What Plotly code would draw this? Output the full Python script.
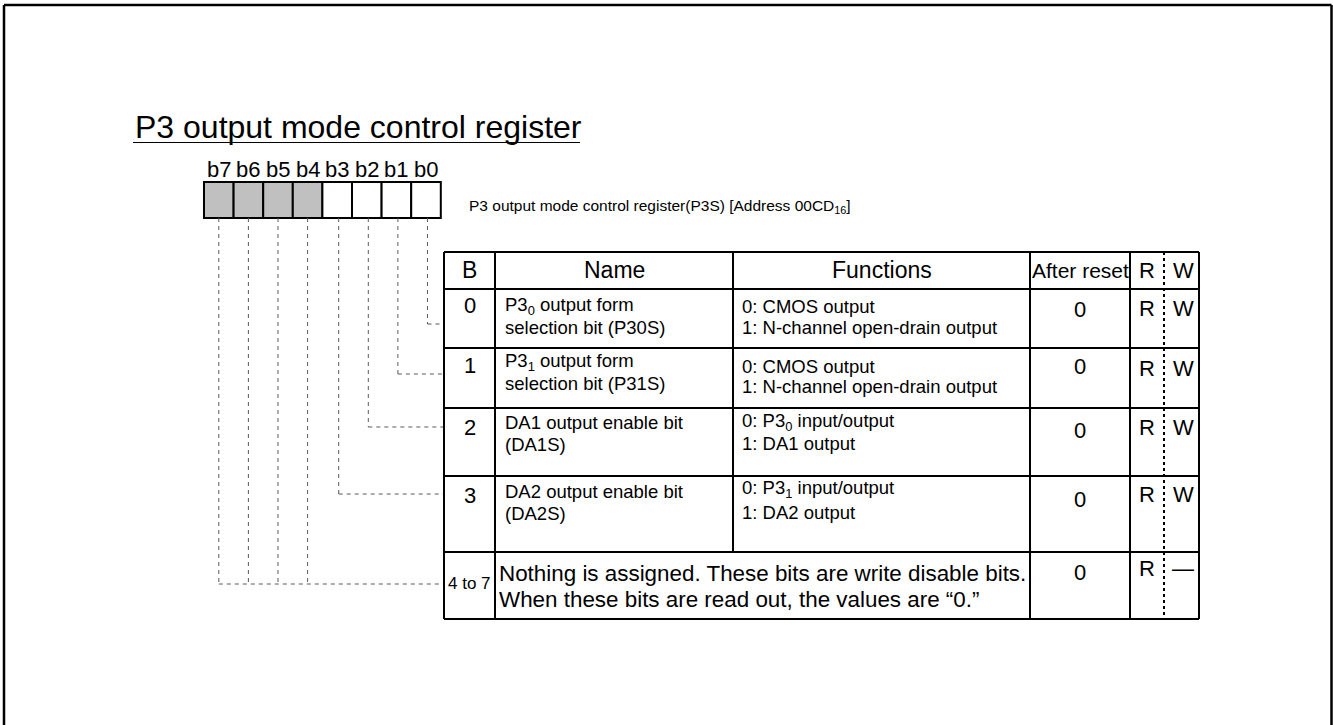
import plotly.graph_objects as go

W, H = 1333, 725
FONT = "Arial, Liberation Sans, Helvetica, sans-serif"

# ---------------- data ----------------
title_text = "P3 output mode control register"
register_desc = "P3 output mode control register(P3S) [Address 00CD<sub>16</sub>]"
bit_labels = ["b7", "b6", "b5", "b4", "b3", "b2", "b1", "b0"]
bit_unused = [True, True, True, True, False, False, False, False]
header_cols = ["B", "Name", "Functions", "After reset", "R", "W"]
row_bits = ["0", "1", "2", "3", "4 to 7"]
row_names = [
    ["P3<sub>0</sub> output form", "selection bit (P30S)"],
    ["P3<sub>1</sub> output form", "selection bit (P31S)"],
    ["DA1 output enable bit", "(DA1S)"],
    ["DA2 output enable bit", "(DA2S)"],
    None,
]
row_functions = [
    ["0: CMOS output", "1: N-channel open-drain output"],
    ["0: CMOS output", "1: N-channel open-drain output"],
    ["0: P3<sub>0</sub> input/output", "1: DA1 output"],
    ["0: P3<sub>1</sub> input/output", "1: DA2 output"],
    None,
]
row4_text = ["Nothing is assigned. These bits are write disable bits.",
             "When these bits are read out, the values are \u201c0.\u201d"]
after_reset = ["0", "0", "0", "0", "0"]
read_flag = ["R", "R", "R", "R", "R"]
write_flag = ["W", "W", "W", "W", "\u2014"]

# ---------------- layout geometry ----------------
box_left, box_w, box_top, box_bot = 204, 29.6, 182, 218
col_x = [444, 495, 733, 1030, 1130, 1199]
rw_div = 1164
row_y = [252, 289, 348, 408, 476, 552, 619]
conn_y = [324, 374, 427, 494]
conn_y_hi = 584

b_y = [305, 365, 427, 495, 583]
name_y = [(306, 327), (362, 383), (422, 444), (491, 513)]
func_y = [(306, 327), (366, 386), (422, 443), (489, 512)]
reset_y = [309, 366, 430, 499, 572]
rw_y = [308, 368, 427, 494, 568]

shapes = []
ann = []

def line(x0, y0, x1, y1, color="black", width=1, dash=None):
    d = dict(type="line", xref="x", yref="y", x0=x0, y0=y0, x1=x1, y1=y1,
             line=dict(color=color, width=width))
    if dash:
        d["line"]["dash"] = dash
    shapes.append(d)

def text(x, y, s, size, xanchor="left", yanchor="middle"):
    ann.append(dict(x=x, y=y, xref="x", yref="y", text=s, showarrow=False,
                    xanchor=xanchor, yanchor=yanchor,
                    font=dict(family=FONT, size=size, color="black")))

# outer frame (no bottom edge visible)
line(4, 5, 4, 730, width=2.5)
line(4, 5, 1331.5, 5, width=2.5)
line(1331.5, 5, 1331.5, 730, width=2.5)

# title
text(133, 127, title_text, 32)
line(133, 142.5, 580, 142.5, width=1)

# bit boxes
for i, lab in enumerate(bit_labels):
    x0 = box_left + i * box_w
    shapes.append(dict(type="rect", xref="x", yref="y", x0=x0, x1=x0 + box_w,
                       y0=box_top, y1=box_bot,
                       fillcolor="#c0c0c0" if bit_unused[i] else "white",
                       line=dict(color="black", width=2)))
    text(x0 + box_w / 2, 169, lab, 22, xanchor="center")

text(467, 206, register_desc, 15.5)

# connectors
dash_col = "#5a5a5a"
for i, lab in enumerate(bit_labels):
    bit = 7 - i
    cx = box_left + i * box_w + box_w / 2 + (1.5 if bit < 4 else 0)
    if bit < 4:
        yy = conn_y[bit]
        line(cx, box_bot, cx, yy, color=dash_col, dash="4px,4px")
        line(cx, yy, col_x[0], yy, color=dash_col, dash="4px,4px")
    else:
        line(cx, box_bot, cx, conn_y_hi, color=dash_col, dash="4px,4px")
x_b7 = box_left + box_w / 2
line(x_b7, conn_y_hi, col_x[0], conn_y_hi, color=dash_col, dash="4px,4px")

# table grid
for yy in row_y:
    line(col_x[0], yy, col_x[-1], yy, width=2)
for j, xx in enumerate(col_x):
    if j == 2:
        line(xx, row_y[0], xx, row_y[5], width=2)
    else:
        line(xx, row_y[0], xx, row_y[-1], width=2)
line(rw_div, row_y[0], rw_div, row_y[-1], width=2, dash="3px,3px")

# header
hy = 270
centers = [(col_x[0] + col_x[1]) / 2, (col_x[1] + col_x[2]) / 2,
           (col_x[2] + col_x[3]) / 2, (col_x[3] + col_x[4]) / 2]
text(centers[0], hy, header_cols[0], 23, "center")
text(centers[1], hy, header_cols[1], 23, "center")
text(centers[2], hy, header_cols[2], 23, "center")
text(centers[3], hy, header_cols[3], 21, "center")
text(1147, hy, header_cols[4], 22, "center")
text(1183, hy, header_cols[5], 22, "center")

# rows
for r in range(5):
    text(centers[0], b_y[r], row_bits[r], 22 if r < 4 else 17, "center")
    if row_names[r] is not None:
        for k in range(2):
            text(503, name_y[r][k], row_names[r][k], 18.5)
            text(740, func_y[r][k], row_functions[r][k], 18.5)
    text(centers[3], reset_y[r], after_reset[r], 22, "center")
    text(1147, rw_y[r], read_flag[r], 22, "center")
    text(1183, rw_y[r], write_flag[r], 22, "center")

text(497, 573, row4_text[0], 22.4)
text(497, 599, row4_text[1], 22.4)

fig = go.Figure()
fig.update_layout(
    width=W, height=H,
    margin=dict(l=0, r=0, t=0, b=0),
    paper_bgcolor="white", plot_bgcolor="white",
    xaxis=dict(range=[0, W], visible=False, fixedrange=True),
    yaxis=dict(range=[H, 0], visible=False, fixedrange=True),
    shapes=shapes, annotations=ann, showlegend=False,
)
fig.write_html("out.html",
               config={"displayModeBar": False, "staticPlot": True},
               post_script="document.body.style.margin='0';document.body.style.overflow='hidden';")
